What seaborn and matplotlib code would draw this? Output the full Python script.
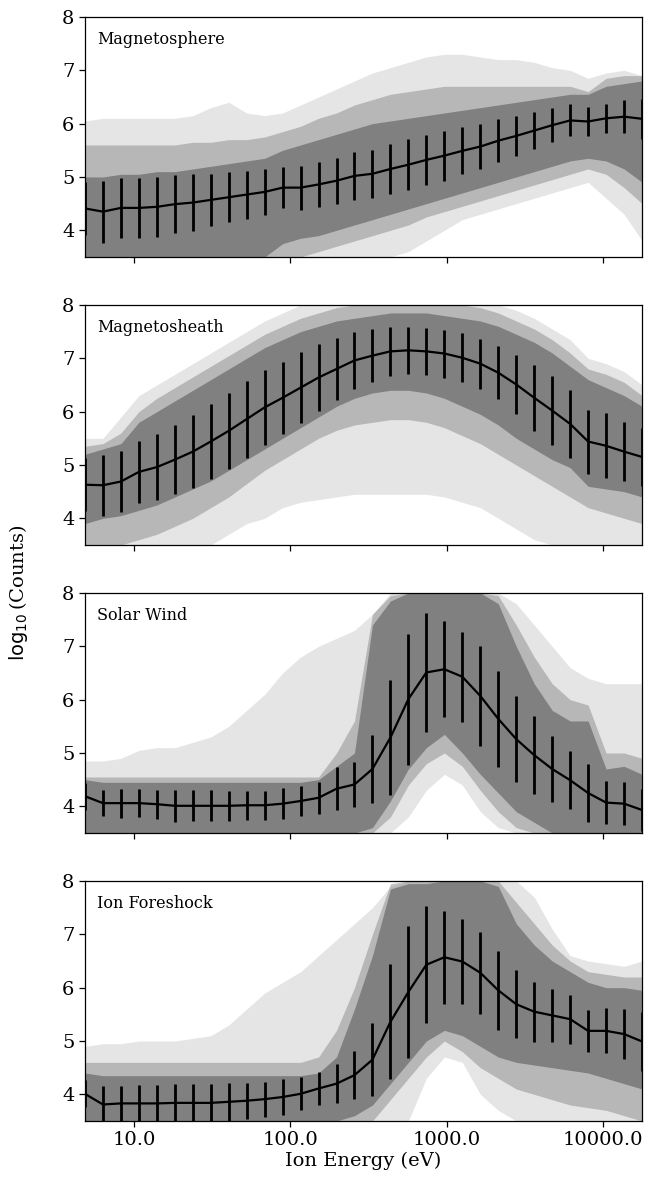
import numpy as np
import matplotlib
matplotlib.use("Agg")
import matplotlib.pyplot as plt
from matplotlib.ticker import FuncFormatter, NullLocator
import seaborn as sns

# energy channels (eV)
energy = [4.86, 6.34, 8.26, 10.76, 14.02, 18.27, 23.8, 31.0, 40.4, 52.6, 68.6, 89.3,
          116.4, 151.6, 197.5, 257.3, 335.2, 437.0, 569.0, 741.0, 966.0, 1259.0,
          1640.0, 2137.0, 2784.0, 3627.0, 4726.0, 6157.0, 8021.0, 10450.0, 13640.0, 17780.0]

regions = ["Magnetosphere", "Magnetosheath", "Solar Wind", "Ion Foreshock"]

# mean log10 counts and standard deviation per channel
msph_mean = [4.41, 4.35, 4.42, 4.42, 4.44, 4.49, 4.52, 4.57, 4.62, 4.67, 4.72, 4.80, 4.80, 4.86, 4.93, 5.02,
             5.06, 5.15, 5.23, 5.32, 5.40, 5.49, 5.57, 5.68, 5.77, 5.87, 5.97, 6.06, 6.04, 6.10, 6.13, 6.09]
msph_std = [0.50, 0.58, 0.57, 0.56, 0.56, 0.54, 0.53, 0.49, 0.47, 0.45, 0.43, 0.39, 0.41, 0.42, 0.43, 0.45,
            0.45, 0.47, 0.48, 0.47, 0.47, 0.44, 0.43, 0.40, 0.38, 0.34, 0.32, 0.30, 0.28, 0.27, 0.31, 0.38]
msh_mean = [4.63, 4.62, 4.69, 4.87, 4.96, 5.10, 5.25, 5.44, 5.64, 5.86, 6.08, 6.26, 6.45, 6.64, 6.80, 6.96,
            7.05, 7.13, 7.15, 7.13, 7.09, 7.01, 6.90, 6.73, 6.51, 6.26, 6.02, 5.77, 5.44, 5.36, 5.25, 5.15]
msh_std = [0.50, 0.57, 0.57, 0.58, 0.62, 0.65, 0.68, 0.70, 0.71, 0.72, 0.70, 0.68, 0.66, 0.63, 0.59, 0.54,
           0.50, 0.46, 0.44, 0.44, 0.45, 0.46, 0.47, 0.50, 0.56, 0.62, 0.64, 0.63, 0.60, 0.61, 0.55, 0.55]
sw_mean = [4.19, 4.06, 4.06, 4.06, 4.04, 4.01, 4.01, 4.01, 4.01, 4.02, 4.02, 4.05, 4.10, 4.16, 4.33, 4.41,
           4.70, 5.29, 6.01, 6.51, 6.57, 6.43, 6.07, 5.64, 5.26, 4.96, 4.70, 4.49, 4.25, 4.07, 4.05, 3.93]
sw_std = [0.25, 0.25, 0.27, 0.26, 0.27, 0.30, 0.29, 0.29, 0.28, 0.27, 0.27, 0.29, 0.29, 0.30, 0.40, 0.43,
          0.64, 1.08, 1.23, 1.11, 0.90, 0.84, 0.93, 0.90, 0.81, 0.73, 0.61, 0.54, 0.54, 0.41, 0.40, 0.40]
fs_mean = [4.01, 3.81, 3.83, 3.83, 3.83, 3.84, 3.84, 3.84, 3.86, 3.88, 3.91, 3.95, 4.01, 4.11, 4.20, 4.36,
           4.65, 5.36, 5.92, 6.43, 6.57, 6.49, 6.28, 5.95, 5.69, 5.55, 5.48, 5.41, 5.19, 5.19, 5.13, 4.99]
fs_std = [0.25, 0.35, 0.33, 0.35, 0.35, 0.36, 0.36, 0.36, 0.36, 0.34, 0.33, 0.34, 0.31, 0.31, 0.36, 0.45,
          0.69, 1.08, 1.24, 1.10, 0.87, 0.79, 0.77, 0.74, 0.64, 0.56, 0.50, 0.46, 0.39, 0.42, 0.47, 0.55]

# envelopes of the individual spectra: dense core, medium density, faint outliers
msph_core_lo = [3.5] * 11 + [3.75, 3.85, 3.9, 4.0, 4.1, 4.2, 4.3, 4.4, 4.5, 4.6, 4.7, 4.8, 4.9, 5.0, 5.1,
                             5.2, 5.3, 5.35, 5.3, 5.15, 4.9]
msph_core_hi = [5.0, 5.0, 5.05, 5.05, 5.1, 5.1, 5.15, 5.2, 5.25, 5.3, 5.35, 5.5, 5.6, 5.7, 5.8, 5.9,
                6.0, 6.05, 6.1, 6.15, 6.2, 6.25, 6.3, 6.35, 6.4, 6.45, 6.5, 6.55, 6.55, 6.7, 6.75, 6.8]
msph_mid_lo = [3.5] * 13 + [3.6, 3.7, 3.8, 3.9, 4.0, 4.1, 4.25, 4.35, 4.45, 4.55, 4.65, 4.75, 4.85,
                            4.95, 5.05, 5.15, 5.05, 4.8, 4.5]
msph_mid_hi = [5.6, 5.6, 5.6, 5.6, 5.6, 5.6, 5.65, 5.65, 5.7, 5.7, 5.75, 5.85, 5.95, 6.1, 6.2, 6.35,
               6.45, 6.55, 6.6, 6.65, 6.7, 6.7, 6.7, 6.7, 6.7, 6.7, 6.7, 6.7, 6.6, 6.85, 6.9, 6.9]
msph_out_lo = [3.5] * 18 + [3.6, 3.8, 4.0, 4.2, 4.3, 4.4, 4.5, 4.6, 4.7, 4.8, 4.9, 4.6, 4.3, 3.8]
msph_out_hi = [6.05, 6.1, 6.1, 6.1, 6.1, 6.1, 6.15, 6.3, 6.4, 6.2, 6.15, 6.2, 6.35, 6.5, 6.65, 6.8,
               6.95, 7.05, 7.15, 7.25, 7.3, 7.3, 7.25, 7.2, 7.2, 7.15, 7.05, 7.0, 6.85, 6.95, 7.0, 6.9]

msh_core_lo = [3.9, 4.0, 4.05, 4.15, 4.25, 4.4, 4.55, 4.7, 4.9, 5.1, 5.3, 5.5, 5.7, 5.9, 6.1, 6.25,
               6.35, 6.4, 6.4, 6.35, 6.25, 6.1, 5.95, 5.75, 5.5, 5.3, 5.1, 4.95, 4.6, 4.55, 4.5, 4.4]
msh_core_hi = [5.2, 5.3, 5.4, 5.8, 6.0, 6.2, 6.4, 6.6, 6.8, 7.0, 7.2, 7.35, 7.5, 7.6, 7.7, 7.75,
               7.8, 7.85, 7.85, 7.85, 7.8, 7.75, 7.7, 7.6, 7.45, 7.3, 7.1, 6.85, 6.6, 6.45, 6.3, 6.1]
msh_mid_lo = [3.5] * 3 + [3.6, 3.7, 3.85, 4.0, 4.2, 4.4, 4.65, 4.9, 5.1, 5.3, 5.5, 5.65, 5.75, 5.8,
                          5.85, 5.85, 5.8, 5.7, 5.55, 5.4, 5.2, 5.0, 4.8, 4.6, 4.4, 4.2, 4.1, 4.0, 3.9]
msh_mid_hi = [5.35, 5.4, 5.6, 6.0, 6.25, 6.45, 6.65, 6.85, 7.05, 7.25, 7.45, 7.6, 7.75, 7.85, 7.95,
              8.0, 8.0, 8.0, 8.0, 8.0, 8.0, 8.0, 7.95, 7.85, 7.7, 7.55, 7.35, 7.1, 6.8, 6.7, 6.55, 6.3]
msh_out_lo = [3.5] * 8 + [3.7, 3.9, 4.0, 4.2, 4.3, 4.35, 4.4, 4.45, 4.45, 4.45, 4.45, 4.45, 4.4, 4.3,
                          4.2, 4.0, 3.8, 3.6] + [3.5] * 6
msh_out_hi = [5.5, 5.5, 5.9, 6.3, 6.5, 6.7, 6.9, 7.1, 7.3, 7.5, 7.7, 7.85] + [8.0] * 12 + \
             [7.9, 7.75, 7.55, 7.35, 7.0, 6.9, 6.75, 6.5]

sw_core_lo = [3.5] * 16 + [3.6, 4.1, 4.7, 5.1, 5.35, 5.0, 4.6, 4.25, 3.9, 3.7] + [3.5] * 6
sw_core_hi = [4.5] + [4.45] * 12 + [4.5, 4.75, 5.0, 7.4, 7.85, 8.0, 8.0, 8.0, 8.0, 8.0, 7.8, 7.0, 6.3,
                                    5.8, 5.6, 5.6, 4.7, 4.75, 4.6]
sw_mid_lo = [3.5] * 17 + [3.8, 4.4, 4.8, 5.0, 4.75, 4.3, 3.9, 3.6] + [3.5] * 7
sw_mid_hi = [4.55] * 14 + [5.0, 5.6, 7.6, 7.95, 8.0, 8.0, 8.0, 8.0, 8.0, 7.95, 7.4, 6.8, 6.3, 6.0,
                           5.9, 5.0, 5.0, 4.9]
sw_out_lo = [3.5] * 18 + [3.8, 4.3, 4.6, 4.4, 3.9, 3.6] + [3.5] * 8
sw_out_hi = [4.85, 4.85, 4.9, 5.05, 5.1, 5.1, 5.2, 5.3, 5.5, 5.8, 6.1, 6.5, 6.8, 7.0, 7.15, 7.3,
             7.6] + [8.0] * 7 + [7.8, 7.4, 7.0, 6.6, 6.4, 6.3, 6.3, 6.3]

fs_core_lo = [3.5] * 15 + [3.6, 3.8, 4.2, 4.6, 5.0, 5.2, 5.1, 4.9, 4.7, 4.6, 4.55, 4.5, 4.45, 4.4,
                           4.3, 4.2, 4.1]
fs_core_hi = [4.4] + [4.35] * 12 + [4.4, 4.7, 5.6, 6.6, 7.85, 7.95, 7.95, 8.0, 8.0, 8.0, 7.9, 7.2,
                                    6.8, 6.5, 6.3, 6.1, 6.0, 6.0, 5.95]
fs_mid_lo = [3.5] * 17 + [3.9, 4.3, 4.7, 5.0, 4.8, 4.5, 4.3, 4.1, 4.0, 3.9, 3.8, 3.75, 3.7, 3.6, 3.5]
fs_mid_hi = [4.6] * 13 + [4.7, 5.2, 6.0, 7.0, 7.95, 8.0, 8.0, 8.0, 8.0, 8.0, 8.0, 7.6, 7.2, 6.8, 6.5,
                          6.3, 6.25, 6.2, 6.2]
fs_out_lo = [3.5] * 19 + [4.3, 4.7, 4.6, 4.0, 3.7] + [3.5] * 8
fs_out_hi = [4.9, 4.95, 4.95, 5.0, 5.0, 5.0, 5.05, 5.1, 5.3, 5.6, 5.9, 6.1, 6.3, 6.6, 6.9, 7.2,
             7.5, 7.9] + [8.0] * 7 + [7.7, 7.1, 6.6, 6.5, 6.45, 6.4, 6.5]

means = [msph_mean, msh_mean, sw_mean, fs_mean]
stds = [msph_std, msh_std, sw_std, fs_std]
bands = [
    [(msph_out_lo, msph_out_hi), (msph_mid_lo, msph_mid_hi), (msph_core_lo, msph_core_hi)],
    [(msh_out_lo, msh_out_hi), (msh_mid_lo, msh_mid_hi), (msh_core_lo, msh_core_hi)],
    [(sw_out_lo, sw_out_hi), (sw_mid_lo, sw_mid_hi), (sw_core_lo, sw_core_hi)],
    [(fs_out_lo, fs_out_hi), (fs_mid_lo, fs_mid_hi), (fs_core_lo, fs_core_hi)],
]
band_alpha = [0.2, 0.45, 1.0]

sns.set_style("ticks", {"axes.edgecolor": "black", "xtick.color": "black",
                        "ytick.color": "black", "text.color": "black", "axes.labelcolor": "black"})
plt.rcParams["font.family"] = ["DejaVu Serif"]

fig, axes = plt.subplots(4, 1, figsize=(6.48, 11.86), dpi=100, sharex=True)
fig.subplots_adjust(left=0.131, right=0.991, top=0.9857, bottom=0.0548, hspace=0.2)

for ax, name, mu, sd, bb in zip(axes, regions, means, stds, bands):
    for (lo, hi), a in zip(bb, band_alpha):
        ax.fill_between(energy, lo, hi, color="gray", alpha=a, lw=0)
    sns.lineplot(x=energy, y=mu, color="black", lw=1.6, ax=ax)
    ax.errorbar(energy, mu, yerr=sd, fmt="none", ecolor="black", elinewidth=2, capsize=0)
    ax.set_xscale("log")
    ax.set_xlim(energy[0], energy[-1])
    ax.set_ylim(3.5, 8)
    ax.set_yticks([4, 5, 6, 7, 8])
    ax.text(0.022, 0.94, name, transform=ax.transAxes, va="top", ha="left",
            fontsize=11.5, color="black")
    ax.tick_params(labelsize=14, length=4, width=0.9)
    ax.xaxis.set_minor_locator(NullLocator())
    for sp in ax.spines.values():
        sp.set_linewidth(0.9)

axes[-1].set_xticks([10, 100, 1000, 10000])
axes[-1].xaxis.set_major_formatter(FuncFormatter(lambda v, p: f"{v:.1f}"))
axes[-1].xaxis.set_minor_locator(NullLocator())
axes[-1].set_xlabel("Ion Energy (eV)", fontsize=14, labelpad=2)
fig.text(0.028, 0.5, r"$\log_{10}$(Counts)", rotation=90, va="center", ha="center", fontsize=14)

fig.savefig("out.png", dpi=100)
